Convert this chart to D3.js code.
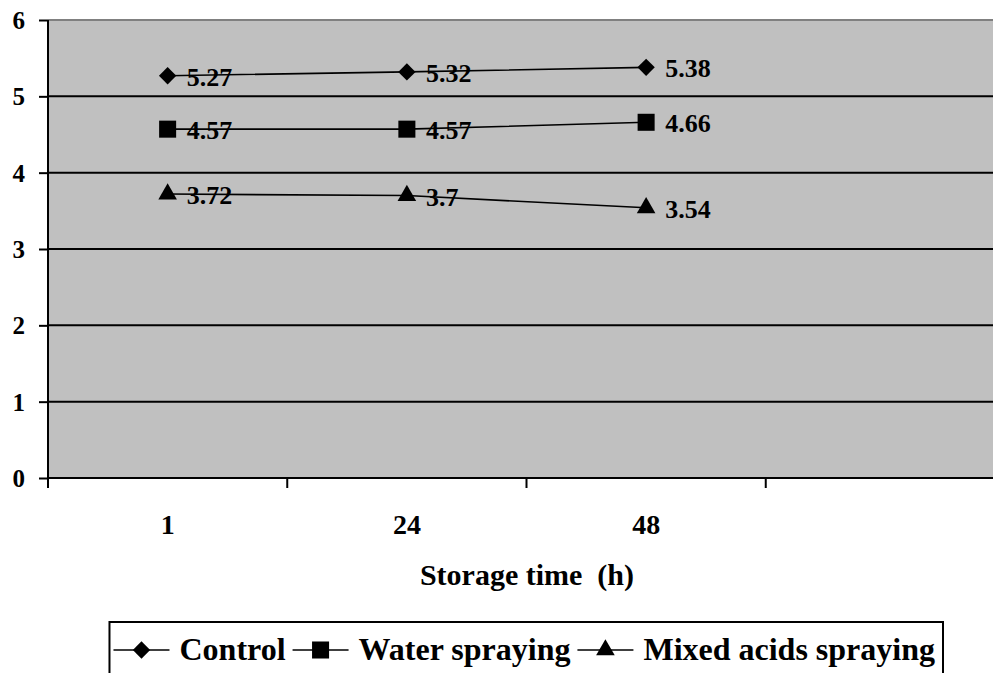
<!DOCTYPE html>
<html>
<head>
  <meta charset="utf-8">
  <title>Storage time chart</title>
  <script src="https://d3js.org/d3.v7.min.js"></script>
  <style>
    body { margin: 0; background: #fff; }
    svg { display: block; }
    text { font-family: "Liberation Serif", "Times New Roman", serif; font-weight: bold; fill: #000; }
  </style>
</head>
<body>
<svg id="chart" width="993" height="673"></svg>
<script>
// data
const categories = ["1", "24", "48"];
const seriesNames = ["Control", "Water spraying", "Mixed acids spraying"];
const control = [5.27, 5.32, 5.38];
const water = [4.57, 4.57, 4.66];
const mixed = [3.72, 3.70, 3.54];
const yTicks = [0, 1, 2, 3, 4, 5, 6];

// square turned 45 degrees, like the excel diamond
const diamond = {
  draw(ctx, size) {
    const h = Math.sqrt(size / 2);
    ctx.moveTo(0, -h);
    ctx.lineTo(h, 0);
    ctx.lineTo(0, h);
    ctx.lineTo(-h, 0);
    ctx.closePath();
  }
};

const series = [
  { name: seriesNames[0], values: control, symbol: diamond, size: 150 },
  { name: seriesNames[1], values: water, symbol: d3.symbolSquare, size: 290 },
  { name: seriesNames[2], values: mixed, symbol: d3.symbolTriangle, size: 150 }
];

const svg = d3.select("#chart");
const plotL = 48, plotR = 1005, plotT = 20, plotB = 478;

// 4 slots, the last one is empty (like the excel chart)
const x = d3.scaleBand().domain(categories.concat([""])).range([plotL, plotR]).padding(0);
const y = d3.scaleLinear().domain([0, 6]).range([plotB, plotT]);
const cx = c => x(c) + x.bandwidth() / 2;

// plot area
svg.append("rect")
  .attr("x", plotL).attr("y", plotT)
  .attr("width", plotR - plotL).attr("height", plotB - plotT)
  .attr("fill", "#c0c0c0");

svg.append("line")
  .attr("x1", plotL).attr("x2", plotR).attr("y1", plotT).attr("y2", plotT)
  .attr("stroke", "#808080").attr("stroke-width", 2);

// gridlines
svg.append("g").selectAll("line")
  .data(yTicks.filter(t => t > 0 && t < 6))
  .join("line")
  .attr("x1", plotL).attr("x2", plotR)
  .attr("y1", d => y(d)).attr("y2", d => y(d))
  .attr("stroke", "#000").attr("stroke-width", 2);

// y axis
const yAxis = svg.append("g")
  .attr("transform", `translate(${plotL},0)`)
  .call(d3.axisLeft(y).tickValues(yTicks).tickSize(9).tickSizeOuter(0).tickPadding(14).tickFormat(d3.format("d")));
yAxis.select(".domain").remove();
yAxis.selectAll(".tick line").attr("stroke", "#000").attr("stroke-width", 2);
yAxis.selectAll(".tick text").style("font-size", "25px").attr("dy", "0.34em");

svg.append("line")
  .attr("x1", plotL).attr("x2", plotL).attr("y1", plotT).attr("y2", plotB + 10)
  .attr("stroke", "#000").attr("stroke-width", 2);

// x axis
svg.append("line")
  .attr("x1", plotL).attr("x2", plotR).attr("y1", plotB).attr("y2", plotB)
  .attr("stroke", "#000").attr("stroke-width", 2);

svg.append("g").selectAll("line")
  .data(x.domain())
  .join("line")
  .attr("x1", d => x(d)).attr("x2", d => x(d))
  .attr("y1", plotB).attr("y2", plotB + 10)
  .attr("stroke", "#000").attr("stroke-width", 2);

svg.append("g").selectAll("text")
  .data(categories)
  .join("text")
  .attr("x", d => cx(d)).attr("y", 534)
  .attr("text-anchor", "middle")
  .style("font-size", "28px")
  .text(d => d);

svg.append("text")
  .attr("x", 527).attr("y", 585)
  .attr("text-anchor", "middle")
  .style("font-size", "30px")
  .attr("xml:space", "preserve")
  .text("Storage time  (h)");

// lines, markers, labels
const line = d3.line().x((d, i) => cx(categories[i])).y(d => y(d));

series.forEach(s => {
  const g = svg.append("g");
  g.append("path")
    .attr("d", line(s.values))
    .attr("fill", "none").attr("stroke", "#000").attr("stroke-width", 1.6);
  g.selectAll("path.mark")
    .data(s.values)
    .join("path")
    .attr("class", "mark")
    .attr("transform", (d, i) => `translate(${cx(categories[i])},${y(d)})`)
    .attr("d", d3.symbol().type(s.symbol).size(s.size));
  g.selectAll("text")
    .data(s.values)
    .join("text")
    .attr("x", (d, i) => cx(categories[i]) + 19)
    .attr("y", d => y(d) + 10)
    .style("font-size", "26px")
    .text(d => String(d));
});

// legend
const legendRight = 943, legendTop = 622, segLen = 56;
const lg = svg.append("g");
const box = lg.append("rect")
  .attr("y", legendTop).attr("height", 70)
  .attr("fill", "#fff").attr("stroke", "#000").attr("stroke-width", 2);

let xpos = 0;
const items = [];
series.forEach(s => {
  const it = lg.append("g");
  it.append("line")
    .attr("x1", xpos).attr("x2", xpos + segLen)
    .attr("y1", 650).attr("y2", 650)
    .attr("stroke", "#000").attr("stroke-width", 1.6);
  it.append("path")
    .attr("transform", `translate(${xpos + segLen / 2},650)`)
    .attr("d", d3.symbol().type(s.symbol).size(s.size));
  const t = it.append("text")
    .attr("x", xpos + segLen + 10).attr("y", 660)
    .style("font-size", "32px")
    .text(s.name);
  xpos += segLen + 10 + t.node().getComputedTextLength() + 7;
  items.push(it);
});
const contentW = xpos - 7 + 8;
const legendLeft = legendRight - contentW - 4;
box.attr("x", legendLeft).attr("width", legendRight - legendLeft);
items.forEach(it => it.attr("transform", `translate(${legendLeft + 4},0)`));
</script>
</body>
</html>
